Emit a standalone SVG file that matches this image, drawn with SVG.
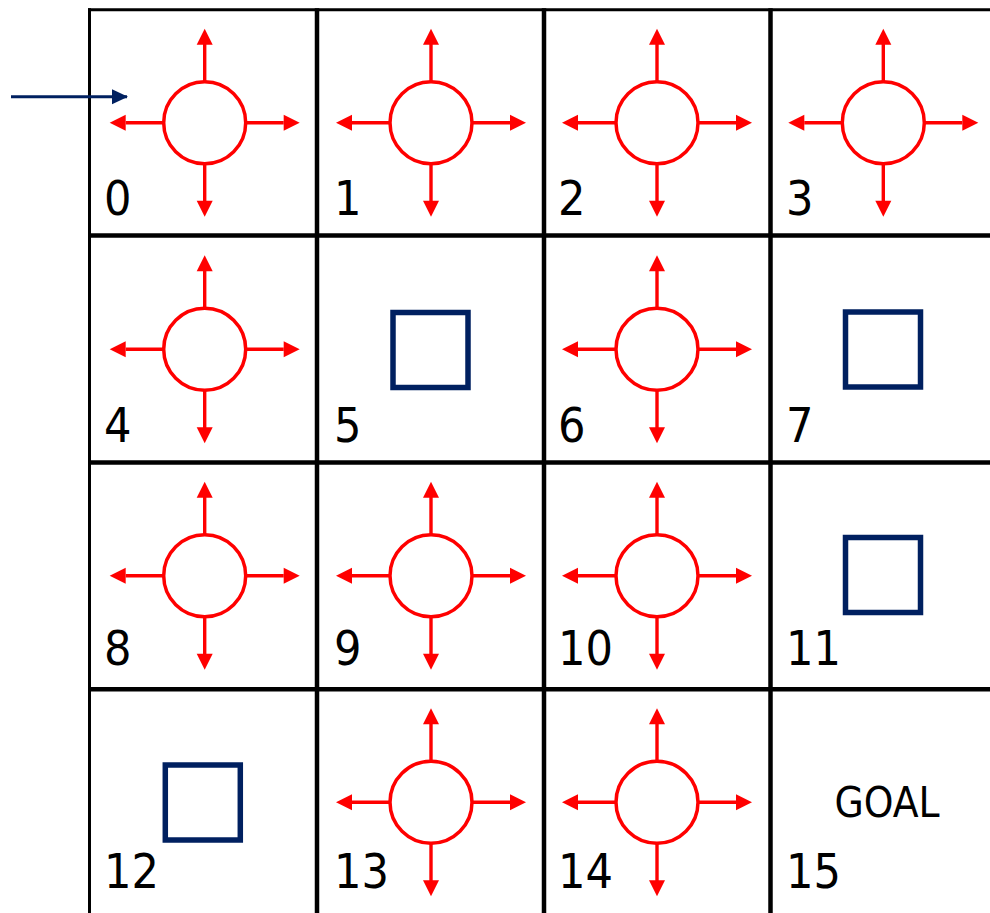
<svg xmlns="http://www.w3.org/2000/svg" xmlns:xlink="http://www.w3.org/1999/xlink" width="990" height="913" viewBox="0 0 990 913">
<style>
.grid{stroke:#000;fill:none}
.outer{stroke-width:3}
.inner{stroke-width:4.5}
.num{font-family:'DejaVu Sans Condensed','DejaVu Sans',Tahoma,sans-serif;font-size:48px;fill:#000}
.goal{font-family:'DejaVu Sans Condensed','DejaVu Sans',Tahoma,sans-serif;font-size:42px;fill:#000}
.wall{fill:none;stroke:#002060;stroke-width:5.5}
.ag{fill:none;stroke:#FF0000;stroke-width:3.5}
.st{stroke:#FF0000;stroke-width:3.4}
.hd{fill:#FF0000}
.start{stroke:#002060;stroke-width:3;fill:none}
</style>
<defs>
<symbol id="agent" overflow="visible">
<circle class="ag" cx="0" cy="0" r="41"/>
<line class="st" x1="0" y1="-41" x2="0" y2="-79"/>
<line class="st" x1="0" y1="41" x2="0" y2="79"/>
<line class="st" x1="-41" y1="0" x2="-79" y2="0"/>
<line class="st" x1="41" y1="0" x2="79" y2="0"/>
<polygon class="hd" points="0,-94 -8,-78 8,-78"/>
<polygon class="hd" points="0,94 -8,78 8,78"/>
<polygon class="hd" points="-95,0 -79,-8 -79,8"/>
<polygon class="hd" points="95,0 79,-8 79,8"/>
</symbol>
<symbol id="wall" overflow="visible">
<rect class="wall" x="-37.5" y="-37.5" width="75" height="75"/>
</symbol>
<marker id="navyhead" markerWidth="16" markerHeight="16" refX="15" refY="7.5" orient="auto" markerUnits="userSpaceOnUse">
<polygon points="0,0 16,7.5 0,15" fill="#002060"/>
</marker>
</defs>
<rect width="990" height="913" fill="#fff"/>
<g id="grid">
<line class="grid outer" x1="88" y1="9.7" x2="990" y2="9.7"/>
<line class="grid outer" x1="89.5" y1="8.2" x2="89.5" y2="913"/>
<line class="grid inner" x1="88" y1="235.5" x2="990" y2="235.5"/>
<line class="grid inner" x1="88" y1="462.5" x2="990" y2="462.5"/>
<line class="grid inner" x1="88" y1="689.3" x2="990" y2="689.3"/>
<line class="grid inner" x1="317" y1="8.2" x2="317" y2="913"/>
<line class="grid inner" x1="544" y1="8.2" x2="544" y2="913"/>
<line class="grid inner" x1="770.5" y1="8.2" x2="770.5" y2="913"/>
</g>
<g id="cell-0"><use xlink:href="#agent" x="204.7" y="122.7"/><text class="num" x="104" y="215">0</text></g>
<g id="cell-1"><use xlink:href="#agent" x="431" y="122.7"/><text class="num" x="334" y="215">1</text></g>
<g id="cell-2"><use xlink:href="#agent" x="657" y="122.7"/><text class="num" x="558" y="215">2</text></g>
<g id="cell-3"><use xlink:href="#agent" x="883.3" y="122.7"/><text class="num" x="786" y="215">3</text></g>
<g id="cell-4"><use xlink:href="#agent" x="204.7" y="349.2"/><text class="num" x="104" y="442">4</text></g>
<g id="cell-5"><use xlink:href="#wall" x="430.5" y="350"/><text class="num" x="334" y="442">5</text></g>
<g id="cell-6"><use xlink:href="#agent" x="657" y="349.2"/><text class="num" x="558" y="442">6</text></g>
<g id="cell-7"><use xlink:href="#wall" x="883" y="349.5"/><text class="num" x="786" y="442">7</text></g>
<g id="cell-8"><use xlink:href="#agent" x="204.7" y="575.7"/><text class="num" x="104" y="665">8</text></g>
<g id="cell-9"><use xlink:href="#agent" x="431" y="575.7"/><text class="num" x="334" y="665">9</text></g>
<g id="cell-10"><use xlink:href="#agent" x="657" y="575.7"/><text class="num" x="558" y="665">10</text></g>
<g id="cell-11"><use xlink:href="#wall" x="883" y="575"/><text class="num" x="786" y="665">11</text></g>
<g id="cell-12"><use xlink:href="#wall" x="202.8" y="802.5"/><text class="num" x="104" y="888">12</text></g>
<g id="cell-13"><use xlink:href="#agent" x="431" y="802.2"/><text class="num" x="334" y="888">13</text></g>
<g id="cell-14"><use xlink:href="#agent" x="657" y="802.2"/><text class="num" x="558" y="888">14</text></g>
<g id="cell-15"><text class="goal" x="887" y="817" text-anchor="middle">GOAL</text><text class="num" x="786" y="888">15</text></g>
<g id="connectors">
<line class="start" x1="11" y1="96.7" x2="127" y2="96.7" marker-end="url(#navyhead)"/>
</g>
</svg>
